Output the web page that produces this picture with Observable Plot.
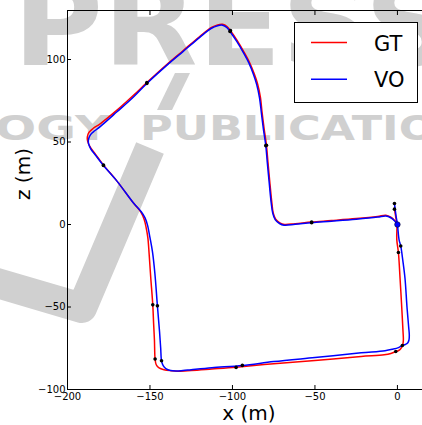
<!DOCTYPE html>
<html><head><meta charset="utf-8">
<script src="https://cdn.jsdelivr.net/npm/d3@7"></script>
<script src="https://cdn.jsdelivr.net/npm/@observablehq/plot@0.6"></script>
<style>
html,body{margin:0;padding:0;background:#fff;overflow:hidden}
#wrap{position:relative;width:422px;height:425px;font-family:"DejaVu Sans",sans-serif}
#wm,#chart,#legend{position:absolute;left:0;top:0}
</style></head><body>
<div id="wrap">
<svg id="wm" width="422" height="425">
 <g fill="#d0d0d0" font-family="DejaVu Sans" font-weight="bold">
  <text x="13" y="65" font-size="118" textLength="440" lengthAdjust="spacingAndGlyphs">PRESS</text>
  <text x="-5" y="140" font-size="34" textLength="115" lengthAdjust="spacingAndGlyphs">OGY</text>
  <text x="140" y="140" font-size="34" textLength="366" lengthAdjust="spacingAndGlyphs">PUBLICATIONS</text>
  <path d="M157,110 L175,73 L190,73 L172,110Z"/>
 </g>
 <path d="M-10,281 L82,308 L150,148" stroke="#d0d0d0" stroke-width="30" fill="none" stroke-linejoin="round"/>
</svg>
<div id="chart"></div>
<svg id="legend" width="422" height="425"></svg>
</div>
<script>
const xTicks = [-200, -150, -100, -50, 0];
const zTicks = [-100, -50, 0, 50, 100];
const xDomain = [-200, 15.2];
const zDomain = [-100, 129.7];
const seriesNames = ["GT", "VO"];
const seriesColors = ["#ff0000", "#0000ff"];

// Ground truth trajectory
const gtX = [-1.8, -1.0, -0.3, -0.4, 0.6, 1.6, 2.6, 3.4, 3.6, 3.2, 2.0, 0.5, -1.0, -4.0, -8.0, -22, -50, -75, -97.8, -112.5, -125, -133, -137.4, -141.5, -144.5, -146.2, -146.9, -147.3, -147.8, -148.3, -149.5, -150.5, -151.3, -152.3, -153.5, -155.6, -160, -170, -178.2, -183, -186.3, -187.8, -188, -187, -184.5, -180, -170, -160, -151.9, -140, -130, -120, -113, -109, -106, -103.3, -101.2, -97, -93, -89.7, -86.8, -84.8, -83.1, -82, -80.8, -79.4, -78.5, -77.3, -76.1, -75.3, -73.8, -71.3, -68.5, -62, -52, -40, -25, -12, -7, -4, -1.5, 0];
const gtZ = [9.3, 4.5, 0, -9, -17, -32.7, -50, -65, -70, -73, -75.3, -76.5, -77, -78.2, -79, -80, -82.4, -84.4, -86.5, -87.6, -88.5, -88.9, -88.6, -88, -86.9, -85, -81.5, -70, -60, -48.7, -32.7, -18, -8, -2, 3, 7.7, 13, 26.3, 36, 42.5, 47, 50.5, 53, 55.8, 58.2, 61.2, 69.3, 78.3, 86, 96.8, 105.3, 113.8, 119.3, 121, 121.3, 120, 117.5, 111.3, 104.5, 98.3, 91.3, 85.3, 77.3, 67.5, 58, 48, 38, 25, 13, 7, 3.2, 1, 0, 0.5, 1.5, 2.4, 3.6, 4.9, 5.6, 4.4, 2.2, 0];

// Visual odometry trajectory
const voX = [-1.8, -0.8, 0, 1, 2, 3.3, 4.6, 5.8, 6.8, 7.2, 7.0, 6.2, 4.8, 3.0, 0.6, -3, -7.5, -22, -50, -75, -94, -112.5, -125, -130, -134.4, -137.5, -140.4, -142, -143, -143.5, -144.2, -145.5, -147, -148.5, -150, -151.5, -153, -155.3, -160, -170, -178.2, -183, -186, -187.3, -187.2, -186, -183.5, -180, -170, -160, -151.9, -140, -130, -120, -113, -109, -106, -103.5, -101.5, -97.3, -93.3, -90, -87.2, -85.3, -83.6, -82.4, -81.2, -79.8, -78.9, -77.7, -76.5, -75.6, -74.1, -71.5, -68.7, -62, -52, -40, -25, -12, -7, -4, -1.5, 0];
const voZ = [12.7, 5, 0, -9.3, -13, -22, -32.7, -50, -62, -67, -70, -71.8, -72.7, -73.3, -74.6, -75.6, -76.5, -77.8, -80.6, -83.1, -85.4, -86.8, -88, -88.5, -88.8, -88.5, -87.3, -85.5, -82.6, -75, -65, -49.3, -30, -16.5, -8, -0.4, 4, 7.7, 13, 26.3, 35.8, 42, 46, 49.3, 52, 54.5, 56.8, 59.5, 68.3, 77.3, 85.5, 96.3, 104.8, 113.3, 118.8, 120.5, 120.8, 119.5, 117, 110.8, 104, 97.8, 90.8, 84.8, 76.8, 67, 57.5, 47.8, 37.8, 25, 13, 7, 3, 0.6, -0.4, 0.1, 1.1, 2, 3.2, 4.5, 5.2, 4.1, 2, 0];

// Keyframe markers
const gtKeyX = [-1.8, 0.6, -1, -97.8, -146.9, -148.3, -178.2, -151.9, -101.2, -79.4, -52];
const gtKeyZ = [9.3, -17, -77, -86.6, -81.5, -48.7, 36, 86, 117.5, 48, 1.5];
const voKeyX = [-1.8, 2, 3, -94, -143, -145.5, -178.2, -151.9, -101.5, -79.8, -52];
const voKeyZ = [12.7, -13, -73.3, -85.4, -82.6, -49.3, 35.8, 85.5, 117, 47.8, 1.1];
const startX = [0];
const startZ = [0];

const toPts = (xs, zs) => xs.map((x, i) => ({x, z: zs[i]}));
const gt = toPts(gtX, gtZ);
const vo = toPts(voX, voZ);
const keys = toPts(gtKeyX, gtKeyZ).concat(toPts(voKeyX, voKeyZ));
const start = toPts(startX, startZ);
const fmt = d => d < 0 ? "\u2212" + Math.abs(d) : String(d);

const plot = Plot.plot({
  width: 422, height: 425,
  marginLeft: 67, marginRight: 0, marginTop: 10, marginBottom: 36,
  style: {background: "transparent", fontFamily: "DejaVu Sans", overflow: "visible", color: "black"},
  x: {domain: xDomain},
  y: {domain: zDomain},
  marks: [
    Plot.line(gt, {x: "x", y: "z", stroke: seriesColors[0], strokeWidth: 1.5, curve: "catmull-rom"}),
    Plot.line(vo, {x: "x", y: "z", stroke: seriesColors[1], strokeWidth: 1.5, curve: "catmull-rom"}),
    Plot.dot(keys, {x: "x", y: "z", r: 1.8, fill: "black"}),
    Plot.dot(start, {x: "x", y: "z", r: 2.8, fill: seriesColors[1], stroke: "black", strokeWidth: 0.5}),
    Plot.ruleX([xDomain[0]], {stroke: "black"}),
    Plot.ruleY([zDomain[0], zDomain[1]], {stroke: "black"}),
    Plot.axisX(xTicks, {anchor: "bottom", tickSize: -4, tickPadding: 7, tickFormat: fmt, fontSize: 10, label: null}),
    Plot.axisX(xTicks, {anchor: "top", tickSize: -4, tickFormat: () => "", label: null}),
    Plot.axisY(zTicks, {anchor: "left", tickSize: -4, tickPadding: 6, tickFormat: fmt, fontSize: 10, label: null}),
    Plot.text(["x (m)"], {text: d => d, frameAnchor: "bottom", dx: 4, dy: 24.5, fontSize: 20, lineAnchor: "middle"}),
    Plot.text(["z (m)"], {text: d => d, frameAnchor: "left", dx: -44, rotate: -90, fontSize: 20, lineAnchor: "middle"})
  ]
});
document.getElementById("chart").appendChild(plot);

// Legend
const lg = d3.select("#legend");
lg.append("rect").attr("x", 294.5).attr("y", 22.5).attr("width", 123).attr("height", 80)
  .attr("fill", "white").attr("stroke", "black").attr("stroke-width", 1);
seriesNames.forEach((name, i) => {
  const y = 42.5 + i * 36.7;
  lg.append("line").attr("x1", 311).attr("x2", 347).attr("y1", y).attr("y2", y)
    .attr("stroke", seriesColors[i]).attr("stroke-width", 1.5);
  lg.append("text").attr("x", 374).attr("y", y + 8).attr("font-size", 21)
    .attr("font-family", "DejaVu Sans").attr("fill", "black").text(name);
});
</script>
</body></html>
